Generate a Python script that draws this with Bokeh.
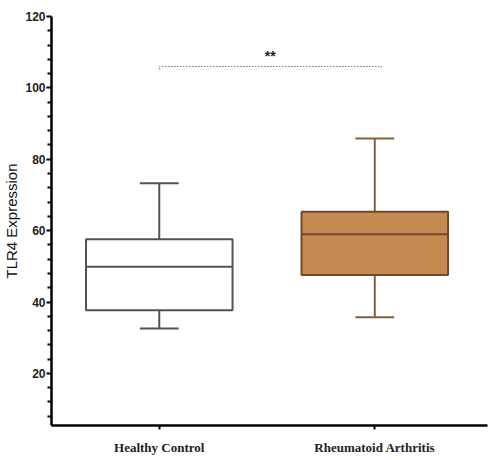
from bokeh.plotting import figure
from bokeh.models import Range1d, FixedTicker, ColumnDataSource, Label
from bokeh.embed import file_html
from bokeh.resources import INLINE

# ---- data ----
categories = ["Healthy Control", "Rheumatoid Arthritis"]
whisker_low = [32.6, 35.7]
q1 = [37.7, 47.6]
median = [49.9, 59.0]
q3 = [57.6, 65.3]
whisker_high = [73.3, 85.8]
sig_label = "**"
sig_level = 106.0
y_major = [20, 40, 60, 80, 100, 120]
y_minor = [8, 12, 16, 24, 28, 32, 36, 44, 48, 52, 56, 64, 68, 72, 76, 84, 88, 92, 96, 104, 108, 112, 116]

fills = ["#ffffff", "#c48a4f"]
edges = ["#57524c", "#6f4a2a"]
whisk = ["#57524c", "#86603d"]

xs = [i + 0.5 for i in range(len(categories))]
box_w = 0.68
cap_w = 0.18

p = figure(width=489, height=460, output_backend="svg", toolbar_location=None,
           x_range=Range1d(0, 2.023), y_range=Range1d(5.4, 120),
           min_border_left=50, min_border_right=2, min_border_top=16, min_border_bottom=35)
p.outline_line_color = None
p.xgrid.visible = False
p.ygrid.visible = False
p.background_fill_color = "white"
p.border_fill_color = "white"

src = ColumnDataSource(dict(x=xs, lo=whisker_low, q1=q1, med=median, q3=q3, hi=whisker_high,
                            fill=fills, edge=edges, wh=whisk,
                            cl=[x - cap_w / 2 for x in xs], cr=[x + cap_w / 2 for x in xs],
                            bl=[x - box_w / 2 for x in xs], br=[x + box_w / 2 for x in xs]))

# whiskers
p.segment(x0="x", y0="q3", x1="x", y1="hi", line_color="wh", line_width=2, source=src)
p.segment(x0="x", y0="lo", x1="x", y1="q1", line_color="wh", line_width=2, source=src)
p.segment(x0="cl", y0="hi", x1="cr", y1="hi", line_color="wh", line_width=2, source=src)
p.segment(x0="cl", y0="lo", x1="cr", y1="lo", line_color="wh", line_width=2, source=src)
# boxes
p.quad(left="bl", right="br", bottom="q1", top="q3", fill_color="fill", line_color="edge",
       line_width=2, source=src)
p.segment(x0="bl", y0="med", x1="br", y1="med", line_color="edge", line_width=2, source=src)

# significance bracket
x_a, x_b = xs[0], xs[1] + 0.03
p.line([x_a, x_a, x_b, x_b], [sig_level - 0.8, sig_level, sig_level, sig_level - 0.8],
       line_color="#333333", line_width=1, line_dash="1 2")
p.add_layout(Label(x=(x_a + x_b) / 2, y=sig_level + 0.6, text=sig_label, text_align="center",
                   text_baseline="bottom", text_font_size="14px", text_font_style="bold",
                   text_font="Liberation Sans", text_color="#222222"))

# y axis
ya = p.yaxis[0]
ya.ticker = FixedTicker(ticks=y_major, minor_ticks=y_minor)
ya.axis_line_width = 2.5
ya.axis_line_color = "black"
ya.major_tick_out = 5
ya.major_tick_in = 0
ya.minor_tick_out = 4
ya.minor_tick_in = 0
ya.major_tick_line_width = 2
ya.minor_tick_line_width = 2
ya.major_label_text_font = "Liberation Sans"
ya.major_label_text_font_style = "bold"
ya.major_label_text_font_size = "12px"
ya.major_label_text_color = "#222222"
ya.major_label_standoff = 1
ya.axis_label = "TLR4 Expression"
ya.axis_label_text_font = "Liberation Sans"
ya.axis_label_text_font_style = "normal"
ya.axis_label_text_font_size = "15px"
ya.axis_label_text_color = "#111111"
ya.axis_label_standoff = 2

# x axis
xa = p.xaxis[0]
xa.ticker = FixedTicker(ticks=xs, minor_ticks=[])
xa.major_label_overrides = {x: c for x, c in zip(xs, categories)}
xa.axis_line_width = 2.5
xa.axis_line_color = "black"
xa.major_tick_out = 4
xa.major_tick_in = 0
xa.major_tick_line_width = 2
xa.major_label_text_font = "Liberation Serif"
xa.major_label_text_font_style = "bold"
xa.major_label_text_font_size = "13px"
xa.major_label_text_color = "#222222"
xa.major_label_standoff = 10

open("out.html", "w").write(file_html(p, INLINE))
